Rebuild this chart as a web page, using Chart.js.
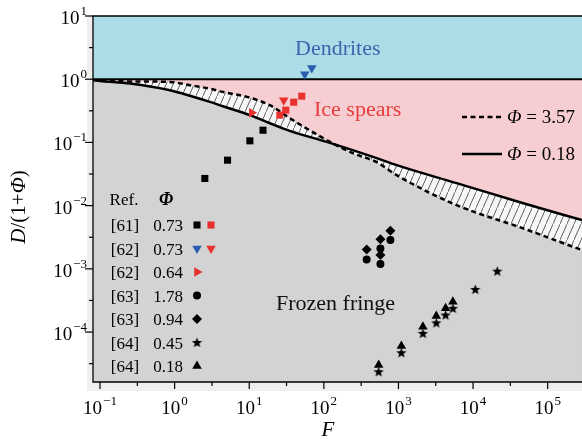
<!DOCTYPE html>
<html>
<head>
<meta charset="utf-8">
<script src="https://cdn.jsdelivr.net/npm/chart.js@4.4.1/dist/chart.umd.min.js"></script>
<style>
  html, body { margin: 0; padding: 0; background: #fff; }
  #wrap { width: 582px; height: 439px; }
</style>
</head>
<body>
<div id="wrap"><canvas id="chart" width="582" height="439"></canvas></div>
<script>
// Axis ranges (log10 exponents) and tick exponents
const xRange = [-1.094, 5.46];
const yRange = [-4.79, 1];
const xTickExp = [-1, 0, 1, 2, 3, 4, 5];
const yTickExp = [1, 0, -1, -2, -3, -4];

// Theory curves
const curveF   = [0.0805, 0.1, 0.252, 0.865, 1.6, 2.97, 4.43, 10.2, 18.9, 34.9, 109, 244, 511, 946, 6010, 46000, 288000];
const solidD   = [0.97, 0.94, 0.855, 0.67, 0.548, 0.438, 0.374, 0.27, 0.201, 0.152, 0.102, 0.0754, 0.0564, 0.0437, 0.0227, 0.011, 0.0059];
const dashedD  = [0.97, 0.947, 0.923, 0.906, 0.804, 0.708, 0.63, 0.51, 0.388, 0.242, 0.109, 0.0676, 0.0487, 0.0303, 0.0102, 0.0044, 0.00198];

// Experimental points
const ref61F    = [2.54, 5.12, 10.2, 15.3];
const ref61D    = [0.0269, 0.0524, 0.106, 0.156];
const ref61IceF = [25.7, 30.9, 39.5, 50.6];
const ref61IceD = [0.27, 0.324, 0.433, 0.539];
const ref62DenF = [55.5, 68.9];
const ref62DenD = [1.2, 1.5];
const ref62IceF = [29.0];
const ref62IceD = [0.465];
const ref62bF   = [10.8];
const ref62bD   = [0.295];
const ref63aF   = [375, 573, 573, 780];
const ref63aD   = [0.00141, 0.0021, 0.00119, 0.00285];
const ref63bF   = [375, 573, 573, 780];
const ref63bD   = [0.00203, 0.00295, 0.00165, 0.004];
const ref64aF   = [543, 1094, 2128, 3215, 4285, 5365, 10700, 21100];
const ref64aD   = [2.36e-5, 4.71e-5, 9.53e-5, 1.40e-4, 1.86e-4, 2.37e-4, 4.73e-4, 9.2e-4];
const ref64bF   = [543, 1094, 2128, 3215, 4285, 5365];
const ref64bD   = [3.01e-5, 6.01e-5, 1.21e-4, 1.79e-4, 2.37e-4, 3.01e-4];

// Table in the lower left
const refLabels = ['[61]', '[62]', '[62]', '[63]', '[63]', '[64]', '[64]'];
const phiLabels = ['0.73', '0.73', '0.64', '1.78', '0.94', '0.45', '0.18'];

const SERIF = '"Liberation Serif", "DejaVu Serif", serif';
const RED = '#e8302c';
const BLUE = '#2a5cb0';
const GREY = '#d3d3d3';
const PINK = '#f6cdd1';
const SKY = '#acdde6';

const xMin = Math.pow(10, xRange[0]), xMax = Math.pow(10, xRange[1]);
const yMin = Math.pow(10, yRange[0]), yMax = Math.pow(10, yRange[1]);

const pts = (xs, ys) => xs.map((x, i) => ({ x: x, y: ys[i] }));

function makeHatch() {
  const c = document.createElement('canvas');
  c.width = 7; c.height = 16;
  const g = c.getContext('2d');
  g.fillStyle = '#f7f7f7';
  g.fillRect(0, 0, 7, 16);
  g.strokeStyle = '#3a3a3a';
  g.lineWidth = 0.8;
  g.beginPath();
  g.moveTo(-0.5, 17); g.lineTo(7.5, -1);
  g.stroke();
  return g.createPattern(c, 'repeat');
}

function makeStar(size) {
  const c = document.createElement('canvas');
  c.width = size; c.height = size;
  const g = c.getContext('2d');
  const cx = size / 2, cy = size / 2 + 0.4, R = size / 2, r = R * 0.42;
  g.fillStyle = '#000';
  g.beginPath();
  for (let i = 0; i < 10; i++) {
    const a = -Math.PI / 2 + i * Math.PI / 5;
    const rr = i % 2 === 0 ? R : r;
    g.lineTo(cx + rr * Math.cos(a), cy + rr * Math.sin(a));
  }
  g.closePath();
  g.fill();
  return c;
}

const hatch = makeHatch();
const star = makeStar(11);

function marker(style, color, radius, rotation) {
  return {
    showLine: false, pointStyle: style, pointRadius: radius, pointRotation: rotation || 0,
    pointBackgroundColor: color, pointBorderWidth: 0, pointHoverRadius: radius, order: 0
  };
}

function band(yVal, extra) {
  return Object.assign({
    data: [{ x: xMin, y: yVal }, { x: xMax, y: yVal }],
    borderWidth: 0, pointRadius: 0
  }, extra);
}

function drawRuns(ctx, runs, x, y) {
  let cx = x;
  runs.forEach(r => {
    ctx.font = r.font;
    ctx.fillText(r.t, cx, y);
    cx += ctx.measureText(r.t).width;
  });
  return cx - x;
}

function runsWidth(ctx, runs) {
  let w = 0;
  runs.forEach(r => { ctx.font = r.font; w += ctx.measureText(r.t).width; });
  return w;
}

function drawPow(ctx, exp, x, baseY, align) {
  const sup = exp < 0 ? '\u2212' + (-exp) : String(exp);
  ctx.font = '19px ' + SERIF;
  const wb = ctx.measureText('10').width;
  ctx.font = '13px ' + SERIF;
  const ws = ctx.measureText(sup).width;
  const total = wb + 1 + ws;
  const left = align === 'center' ? x - total / 2 : x - total;
  ctx.font = '19px ' + SERIF;
  ctx.fillText('10', left, baseY);
  ctx.font = '13px ' + SERIF;
  ctx.fillText(sup, left + wb + 1, baseY - 9);
}

const decor = {
  id: 'decor',
  beforeDraw(chart) {
    const { ctx, chartArea: a } = chart;
    ctx.save();
    ctx.fillStyle = '#efefef';
    ctx.fillRect(a.left - 6, a.top, a.right - a.left + 6, a.bottom - a.top + 9);
    ctx.restore();
  },
  afterDraw(chart) {
    const { ctx, chartArea: a } = chart;
    const xs = chart.scales.x, ys = chart.scales.y;
    ctx.save();
    ctx.fillStyle = '#000';
    ctx.strokeStyle = '#000';
    ctx.textAlign = 'left';
    ctx.textBaseline = 'alphabetic';

    // frame
    ctx.lineWidth = 1.3;
    ctx.beginPath();
    ctx.moveTo(a.right, a.top); ctx.lineTo(a.left, a.top);
    ctx.lineTo(a.left, a.bottom); ctx.lineTo(a.right, a.bottom);
    ctx.stroke();

    // ticks
    ctx.lineWidth = 1.2;
    for (let e = Math.ceil(xRange[0] * 2) / 2; e <= xRange[1]; e += 0.5) {
      const px = xs.getPixelForValue(Math.pow(10, e));
      const len = Number.isInteger(e) ? 7 : 4;
      ctx.beginPath(); ctx.moveTo(px, a.bottom); ctx.lineTo(px, a.bottom + len); ctx.stroke();
    }
    for (let e = Math.ceil(yRange[0] * 2) / 2; e <= yRange[1]; e += 0.5) {
      const py = ys.getPixelForValue(Math.pow(10, e));
      const len = Number.isInteger(e) ? 8 : 4;
      ctx.beginPath(); ctx.moveTo(a.left, py); ctx.lineTo(a.left - len, py); ctx.stroke();
    }

    // tick labels
    xTickExp.forEach(e => drawPow(ctx, e, xs.getPixelForValue(Math.pow(10, e)), a.bottom + 32, 'center'));
    yTickExp.forEach(e => drawPow(ctx, e, a.left - 6, ys.getPixelForValue(Math.pow(10, e)) + 8, 'right'));

    // axis titles
    ctx.font = 'italic 21px ' + SERIF;
    ctx.textAlign = 'center';
    ctx.fillText('F', 328, 436);
    ctx.textAlign = 'left';
    const yTitle = [
      { t: 'D', font: 'italic 21px ' + SERIF },
      { t: '/(1+', font: '21px ' + SERIF },
      { t: '\u03A6', font: 'italic 21px ' + SERIF },
      { t: ')', font: '21px ' + SERIF }
    ];
    ctx.save();
    ctx.translate(25, 207);
    ctx.rotate(-Math.PI / 2);
    drawRuns(ctx, yTitle, -runsWidth(ctx, yTitle) / 2, 0);
    ctx.restore();

    // region labels
    ctx.font = '22px ' + SERIF;
    ctx.fillStyle = '#3a66b0';
    ctx.fillText('Dendrites', 295, 55);
    ctx.fillStyle = '#e83e3c';
    ctx.fillText('Ice spears', 314, 116);
    ctx.fillStyle = '#111';
    ctx.fillText('Frozen fringe', 276, 310);

    // curve legend
    ctx.fillStyle = '#000';
    ctx.lineWidth = 2.5;
    ctx.setLineDash([5, 3.5]);
    ctx.beginPath(); ctx.moveTo(462, 117); ctx.lineTo(503, 117); ctx.stroke();
    ctx.setLineDash([]);
    ctx.beginPath(); ctx.moveTo(462, 154); ctx.lineTo(502, 154); ctx.stroke();
    drawRuns(ctx, [{ t: '\u03A6', font: 'italic 19px ' + SERIF }, { t: ' = 3.57', font: '19px ' + SERIF }], 507, 123);
    drawRuns(ctx, [{ t: '\u03A6', font: 'italic 19px ' + SERIF }, { t: ' = 0.18', font: '19px ' + SERIF }], 507, 160);

    // reference table
    ctx.textAlign = 'center';
    ctx.font = '17px ' + SERIF;
    ctx.fillText('Ref.', 124, 205);
    ctx.font = 'bold italic 18px ' + SERIF;
    ctx.fillText('\u03A6', 166, 205);
    ctx.font = '17px ' + SERIF;
    const rowY = [225, 248.5, 272, 295.5, 319, 342.5, 366];
    refLabels.forEach((t, i) => ctx.fillText(t, 125, rowY[i] + 6));
    phiLabels.forEach((t, i) => ctx.fillText(t, 168, rowY[i] + 6));
    const mk = (style, color, r, rot, x, y) => {
      ctx.fillStyle = color;
      Chart.helpers.drawPoint(ctx, { pointStyle: style, radius: r, rotation: rot, borderWidth: 0 }, x, y);
    };
    mk('rect', '#000', 5, 0, 197, rowY[0]);
    mk('rect', RED, 5, 0, 211, rowY[0]);
    mk('triangle', BLUE, 5.5, 180, 197, rowY[1]);
    mk('triangle', RED, 5.5, 180, 211, rowY[1]);
    mk('triangle', RED, 5.5, 90, 197, rowY[2]);
    mk('circle', '#000', 4, 0, 197, rowY[3]);
    mk('rectRot', '#000', 5, 0, 197, rowY[4]);
    mk(star, '#000', 5, 0, 197, rowY[5]);
    mk('triangle', '#000', 5.5, 0, 197, rowY[6]);
    ctx.restore();
  }
};

const lineCommon = { pointRadius: 0, cubicInterpolationMode: 'monotone', borderColor: '#000' };

new Chart(document.getElementById('chart'), {
  type: 'line',
  data: {
    datasets: [
      // 0: solid theory curve, hatched fill towards the dashed one
      Object.assign({ label: '\u03A6 = 0.18', data: pts(curveF, solidD), borderWidth: 2.5,
        backgroundColor: hatch, fill: { target: 1, above: hatch, below: hatch }, order: 30 }, lineCommon),
      // 1: dashed theory curve
      Object.assign({ label: '\u03A6 = 3.57', data: pts(curveF, dashedD), borderWidth: 2.5,
        borderDash: [5, 3.5], fill: false, order: 29 }, lineCommon),
      // 2, 3: grey area under both curves
      Object.assign({ data: pts(curveF, solidD), borderWidth: 0, backgroundColor: GREY, fill: 'start', order: 40 }, lineCommon),
      Object.assign({ data: pts(curveF, dashedD), borderWidth: 0, backgroundColor: GREY, fill: 'start', order: 39 }, lineCommon),
      // 4: pink below D = 1, 5: blue above
      band(1, { backgroundColor: PINK, fill: 'start', order: 50 }),
      band(yMax, { backgroundColor: SKY, fill: { value: 1 }, order: 49 }),
      // 6: boundary at D = 1
      band(1, { borderColor: '#000', borderWidth: 2, fill: false, order: 20 }),
      // data points
      Object.assign({ label: '[61] 0.73', data: pts(ref61F, ref61D) }, marker('rect', '#000', 5)),
      Object.assign({ label: '[61] 0.73 ice', data: pts(ref61IceF, ref61IceD) }, marker('rect', RED, 5)),
      Object.assign({ label: '[62] 0.73 dendrites', data: pts(ref62DenF, ref62DenD) }, marker('triangle', BLUE, 5.5, 180)),
      Object.assign({ label: '[62] 0.73 ice', data: pts(ref62IceF, ref62IceD) }, marker('triangle', RED, 5.5, 180)),
      Object.assign({ label: '[62] 0.64', data: pts(ref62bF, ref62bD) }, marker('triangle', RED, 5.5, 90)),
      Object.assign({ label: '[63] 1.78', data: pts(ref63aF, ref63aD) }, marker('circle', '#000', 4)),
      Object.assign({ label: '[63] 0.94', data: pts(ref63bF, ref63bD) }, marker('rectRot', '#000', 5)),
      Object.assign({ label: '[64] 0.45', data: pts(ref64aF, ref64aD) }, marker(star, '#000', 5)),
      Object.assign({ label: '[64] 0.18', data: pts(ref64bF, ref64bD) }, marker('triangle', '#000', 5.5))
    ]
  },
  options: {
    responsive: false,
    animation: false,
    devicePixelRatio: 1,
    layout: { autoPadding: false, padding: { left: 93, top: 16, right: 0, bottom: 57 } },
    plugins: { legend: { display: false }, tooltip: { enabled: false } },
    scales: {
      x: { type: 'logarithmic', min: xMin, max: xMax, display: false },
      y: { type: 'logarithmic', min: yMin, max: yMax, display: false }
    }
  },
  plugins: [decor]
});
</script>
</body>
</html>
